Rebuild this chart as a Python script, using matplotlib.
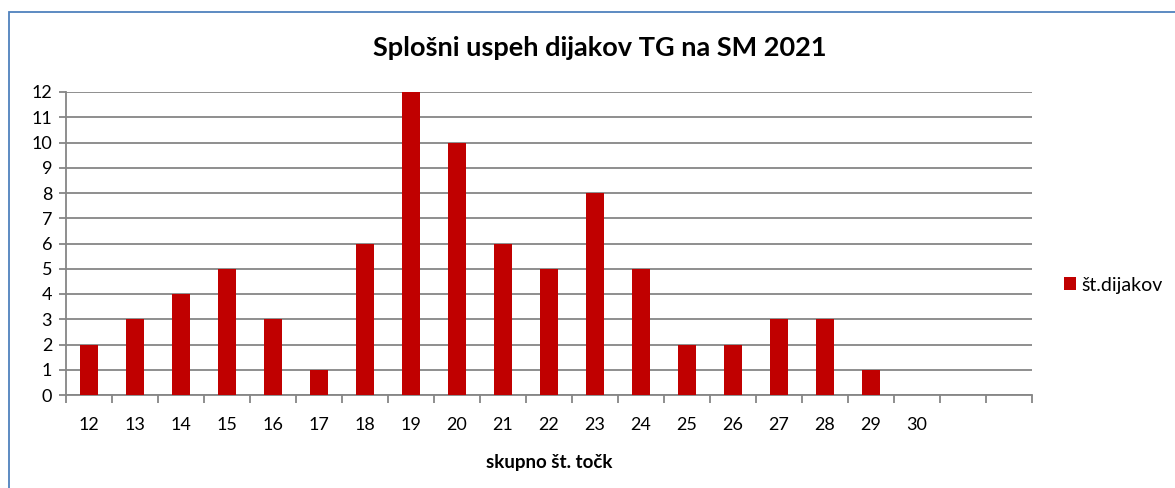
import matplotlib
matplotlib.use("Agg")
import matplotlib.pyplot as plt
from matplotlib.patches import Rectangle
import numpy as np

categories = ["12", "13", "14", "15", "16", "17", "18", "19", "20", "21", "22",
              "23", "24", "25", "26", "27", "28", "29", "30", "", ""]
values = [2, 3, 4, 5, 3, 1, 6, 12, 10, 6, 5, 8, 5, 2, 2, 3, 3, 1, 0, 0, 0]
series_name = "št.dijakov"
title = "Splošni uspeh dijakov TG na SM 2021"
xlabel = "skupno št. točk"

plt.rcParams['font.family'] = ['Lato', 'DejaVu Sans']

W, H = 1175, 488
fig = plt.figure(figsize=(W / 100, H / 100), dpi=100)
ax = fig.add_axes([66 / W, 1 - 395 / H, (1032 - 66) / W, (395 - 92) / H])

x = np.arange(len(categories))
bars = ax.bar(x, values, width=0.4, color="#C00000", label=series_name, zorder=3)

ax.set_xlim(-0.5, len(categories) - 0.5)
ax.set_ylim(0, 12)
ax.set_yticks(range(0, 13))
ax.tick_params(axis='y', labelsize=13, length=5, color="#868686", width=1.3, pad=5)
ax.grid(axis='y', color="#868686", linewidth=1.3, zorder=0)

ax.set_xticks(x)
ax.set_xticklabels(categories)
ax.tick_params(axis='x', which='major', length=0, labelsize=13, pad=16)
ax.set_xticks(np.arange(-0.5, len(categories)), minor=True)
ax.tick_params(axis='x', which='minor', length=6, color="#868686", width=1.3)

for s in ["top", "right"]:
    ax.spines[s].set_visible(False)
for s in ["left", "bottom"]:
    ax.spines[s].set_color("#868686")
    ax.spines[s].set_linewidth(1.3)

ax.set_xlabel(xlabel, fontsize=13.5, fontweight='bold', labelpad=15)
fig.text(0.5107, 1 - 48 / H, title, ha='center', va='center', fontsize=19.5, fontweight='bold')

fig.legend(handles=[bars], labels=[series_name], loc='center left',
           bbox_to_anchor=(1064 / W, 1 - 285 / H), frameon=False, fontsize=14,
           handlelength=0.6, handleheight=0.6, handletextpad=0.3, borderaxespad=0,
           borderpad=0)

# chart-area border (left and top visible)
fig.add_artist(Rectangle((9 / W, -0.1), 1.2, 1 - 12 / H + 0.1, transform=fig.transFigure,
                         fill=False, edgecolor="#4F81BD", linewidth=1.3))

fig.savefig("out.png", dpi=100)
